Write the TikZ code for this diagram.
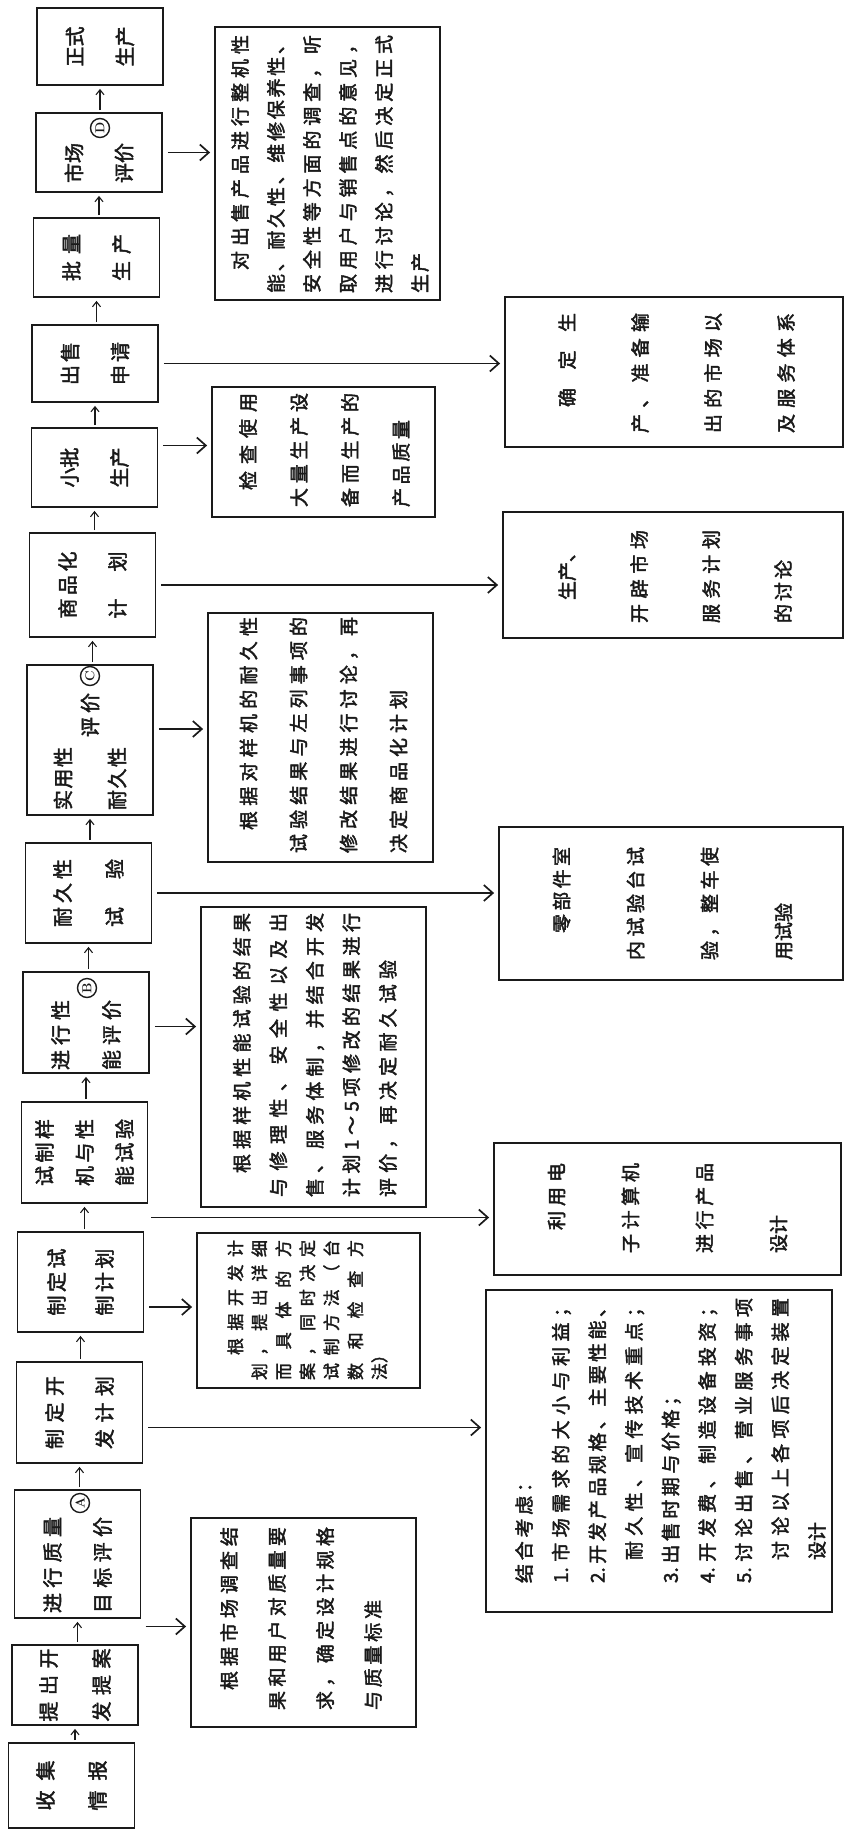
\documentclass[tikz,border=0pt]{standalone}
\usepackage{fontspec}
\newfontfamily\cjk{Noto Sans CJK SC}[FakeBold=2.2]
\usetikzlibrary{arrows.meta,calc}
\definecolor{ink}{HTML}{1A1A1A}
\makeatletter
\newcommand\sline[2]{\hbox to #1{\@tfor\sl@c:=#2\do{\sl@c\hfil}\unskip}}
\makeatother
\tikzset{
  colsep/.style={font=\cjk\fontsize{20pt}{#1}\selectfont},
  dsize/.style 2 args={font=\cjk\fontsize{#1}{#2}\selectfont},
  proc/.style={draw=ink, line width=1.8pt, rotate=90, minimum height=126pt, inner sep=0pt, align=left, text=ink, colsep=50pt},
  desc/.style={draw=ink, line width=1.8pt, rotate=90, inner sep=0pt},
  dtext/.style={rotate=90, inner sep=0pt, align=left, text=ink, dsize={19pt}{36pt}},
  circtag/.style={circle, draw=ink, line width=1.4pt, inner sep=0pt, minimum size=19pt, rotate=90, text=ink, font=\bfseries\fontsize{13pt}{13pt}\selectfont},
  flow/.style={draw=ink, line width=1.1pt, -{Straight Barb[length=5pt,width=8pt]}, shorten <=2pt, shorten >=3pt},
  feed/.style={draw=ink, line width=1.7pt, -{Straight Barb[length=9pt,width=16pt]}, shorten <=5pt, shorten >=4pt},
}
\begin{document}
\begin{tikzpicture}[x=1pt, y=-1pt]
\fill[white] (0,0) rectangle (846,1831);
\useasboundingbox (0,0) rectangle (846,1831);

% main line, bottom to top
\node[proc, minimum width=85pt, colsep=52pt] (sj) at (71.5,1785.5) {\sline{50pt}{收集}\\\sline{50pt}{情报}};
\node[proc, minimum width=80pt, colsep=53pt] (tc) at (75,1685) {\sline{73pt}{提出开}\\\sline{73pt}{发提案}};
\node[proc, minimum width=128pt] (zl) at (77.5,1554) {\sline{96pt}{进行质量}\kern22pt\\\sline{96pt}{目标评价}\kern22pt};
\node[proc, minimum width=101pt] (zk) at (79.5,1412.5) {\sline{73pt}{制定开}\\\sline{73pt}{发计划}};
\node[proc, minimum width=100pt, colsep=48pt] (zj) at (80.5,1282) {\sline{67pt}{制定试}\\\sline{67pt}{制计划}};
\node[proc, minimum width=101pt, colsep=40pt] (sz) at (84.5,1152.5) {\sline{67pt}{试制样}\\\sline{67pt}{机与性}\\\sline{67pt}{能试验}};
\node[proc, minimum width=101pt, colsep=51pt] (xn) at (86,1022.5) {\sline{70pt}{进行性}\kern25pt\\\sline{70pt}{能评价}\kern25pt};
\node[proc, minimum width=100pt, colsep=52pt] (nj) at (88.5,893) {\sline{68pt}{耐久性}\\\sline{68pt}{试验}};
\node[proc, minimum width=150pt, colsep=27pt] (sy) at (90,740) {\sline{63pt}{实用性}\\\kern73pt\sline{44pt}{评价}\kern23pt\\\sline{63pt}{耐久性}};
\node[proc, minimum width=104pt] (sp) at (92.5,585) {\sline{67pt}{商品化}\\\sline{67pt}{计划}};
\node[proc, minimum width=79pt] (xp) at (94.5,467.5) {\sline{40pt}{小批}\\\sline{40pt}{生产}};
\node[proc, minimum width=77pt] (cs) at (95,363.5) {\sline{43pt}{出售}\\\sline{43pt}{申请}};
\node[proc, minimum width=79pt] (pl) at (96.5,257.5) {\sline{47pt}{批量}\\\sline{47pt}{生产}};
\node[proc, minimum width=79pt] (sc) at (99,152.5) {\sline{40pt}{市场}\kern21pt\\\sline{40pt}{评价}\kern21pt};
\node[proc, minimum width=77pt] (zs) at (100,46.5) {\sline{40pt}{正式}\\\sline{40pt}{生产}};

\node[circtag] (cA) at (80,1503) {A};
\node[circtag] (cB) at (87,988) {B};
\node[circtag] (cC) at (90,676) {C};
\node[circtag] (cD) at (100,128) {D};

\foreach \lo/\up in {sj/tc,tc/zl,zl/zk,zk/zj,zj/sz,sz/xn,xn/nj,nj/sy,sy/sp,sp/xp,xp/cs,cs/pl,pl/sc,sc/zs}
  \draw[flow] (\lo.east -| \up.west) -- (\up.west);

% notes
\node[desc, minimum width=273pt, minimum height=225pt] (dA) at (327.5,163.5) {};
\node[dtext] (wA) at (330,164) {\kern23pt\sline{235pt}{对出售产品进行整机性}\\
  \sline{258pt}{能、耐久性、维修保养性、}\\
  \sline{258pt}{安全性等方面的调查，听}\\
  \sline{258pt}{取用户与销售点的意见，}\\
  \sline{258pt}{进行讨论，然后决定正式}\\
  \sline{40pt}{生产}};
\node[desc, minimum width=150pt, minimum height=338pt] (dB) at (674,372) {};
\node[dtext, dsize={19pt}{73pt}] (wB) at (676.5,373) {\kern26pt\sline{94pt}{确定生}\\
  \sline{120pt}{产、准备输}\\\sline{120pt}{出的市场以}\\\sline{120pt}{及服务体系}};
\node[desc, minimum width=130pt, minimum height=223pt] (dC) at (323.5,452) {};
\node[dtext, dsize={19pt}{51pt}] (wC) at (324.5,450) {\kern17pt\sline{97pt}{检查使用}\\
  \sline{114pt}{大量生产设}\\\sline{114pt}{备而生产的}\\\sline{87pt}{产品质量}};
\node[desc, minimum width=126pt, minimum height=340pt] (dD) at (673,575) {};
\node[dtext, dsize={19pt}{72pt}] (wD) at (675,576.5) {\kern23pt\sline{57pt}{生产、}\\
  \sline{93pt}{开辟市场}\\\sline{93pt}{服务计划}\\\sline{63pt}{的讨论}};
\node[desc, minimum width=249pt, minimum height=225pt] (dE) at (320.5,737.5) {};
\node[dtext, dsize={19pt}{50pt}] (wE) at (323.5,735) {\kern23pt\sline{213pt}{根据对样机的耐久性}\\
  \sline{236pt}{试验结果与左列事项的}\\\sline{236pt}{修改结果进行讨论，再}\\\sline{163pt}{决定商品化计划}};
\node[desc, minimum width=153pt, minimum height=344pt] (dG) at (671,903.5) {};
\node[dtext, dsize={19pt}{74pt}] (wG) at (672.5,903.5) {\kern27pt\sline{86pt}{零部件室}\\
  \sline{113pt}{内试验台试}\\\sline{113pt}{验，整车使}\\\sline{57pt}{用试验}};
\node[desc, minimum width=300pt, minimum height=225pt] (dF) at (313.5,1057) {};
\node[dtext, dsize={19pt}{36.5pt}] (wF) at (315,1055) {\kern24pt\sline{260pt}{根据样机性能试验的结果}\\
  \sline{284pt}{与修理性、安全性以及出}\\
  \sline{284pt}{售、服务体制，并结合开发}\\
  \sline{284pt}{计划1～5项修改的结果进行}\\
  \sline{237pt}{评价，再决定耐久试验}};
\node[desc, minimum width=132pt, minimum height=347pt] (dH) at (667.5,1209) {};
\node[dtext, dsize={19pt}{74pt}] (wH) at (667.5,1208) {\kern23pt\sline{67pt}{利用电}\\
  \sline{90pt}{子计算机}\\\sline{90pt}{进行产品}\\\sline{38pt}{设计}};
\node[desc, minimum width=155pt, minimum height=223pt] (dI) at (308.5,1310.5) {};
\node[dtext, dsize={17pt}{24pt}] (wI) at (307.5,1310) {\kern25pt\sline{115pt}{根据开发计}\\
  \sline{140pt}{划，提出详细}\\\sline{140pt}{而具体的方}\\\sline{140pt}{案，同时决定}\\
  \sline{140pt}{试制方法（台}\\\sline{140pt}{数和检查方}\\\sline{34pt}{法）}};
\node[desc, minimum width=322pt, minimum height=346pt] (dJ) at (659,1451) {};
\node[dtext, dsize={19pt}{36.6pt}] (wJ) at (670.5,1440.5) {\sline{110pt}{结合考虑：}\\
  \sline{285pt}{{1.}市场需求的大小与利益；}\\
  \sline{285pt}{{2.}开发产品规格、主要性能、}\\
  \kern23pt\sline{262pt}{耐久性、宣传技术重点；}\\
  \sline{196pt}{{3.}出售时期与价格；}\\
  \sline{285pt}{{4.}开发费、制造设备投资；}\\
  \sline{285pt}{{5.}讨论出售、营业服务事项}\\
  \kern23pt\sline{262pt}{讨论以上各项后决定装置}\\
  \kern23pt\sline{38pt}{设计}};
\node[desc, minimum width=209pt, minimum height=225pt] (dK) at (303.5,1622.5) {};
\node[dtext, dsize={19pt}{48pt}] (wK) at (301,1618.5) {\kern20pt\sline{163pt}{根据市场调查结}\\
  \sline{183pt}{果和用户对质量要}\\\sline{183pt}{求，确定设计规格}\\\sline{110pt}{与质量标准}};

% arrows to the notes
\draw[feed] (sc.south) -- (sc.south -| dA.north);
\draw[feed] (cs.south) -- (cs.south -| dB.north);
\coordinate (fC) at ([yshift=22pt]xp.south);
\draw[feed] (fC) -- (fC -| dC.north);
\draw[feed] (sp.south) -- (sp.south -| dD.north);
\coordinate (fE) at ([yshift=11pt]sy.south);
\draw[feed] (fE) -- (fE -| dE.north);
\draw[feed] (nj.south) -- (nj.south -| dG.north);
\coordinate (fF) at ([yshift=-4pt]xn.south);
\draw[feed] (fF) -- (fF -| dF.north);
\coordinate (fH) at ($(sz.south west)!.5!(zj.south east)$);
\draw[feed] (fH) -- (fH -| dH.north);
\coordinate (fI) at ([yshift=-25pt]zj.south);
\draw[feed] (fI) -- (fI -| dI.north);
\coordinate (fJ) at ([yshift=-15pt]zk.south);
\draw[feed] (fJ) -- (fJ -| dJ.north);
\coordinate (fK) at ($(zl.south west)!.3!(tc.south east)$);
\draw[feed] (fK) -- (fK -| dK.north);
\end{tikzpicture}
\end{document}
